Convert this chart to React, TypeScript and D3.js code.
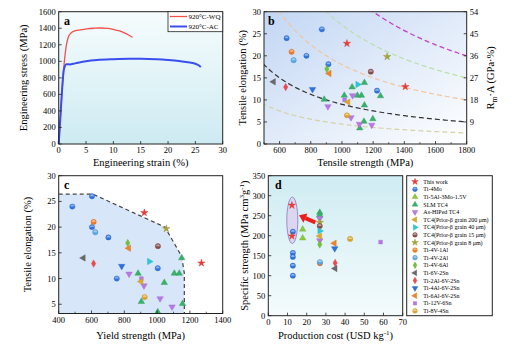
import React, { useEffect, useRef } from 'react';
import * as d3 from 'd3';

const W = 519;
const H = 354;
const FONT = '"Liberation Serif", "Times New Roman", serif';

// ---- panel a: stress-strain curves
const strainWQ = [0, 0.3, 0.6, 0.9, 1.2, 1.5, 1.8, 2.2, 2.7, 4, 5.1, 6.5, 7.6, 9, 10, 11, 11.8, 12.8, 13.5];
const stressWQ = [0, 300, 620, 900, 1100, 1230, 1300, 1340, 1362, 1380, 1392, 1400, 1403, 1398, 1386, 1370, 1350, 1318, 1290];
const strainAC = [0, 0.3, 0.6, 0.9, 1.1, 1.4, 2, 3, 5, 7, 10, 13, 15, 18, 20, 22, 24, 25, 25.6, 26];
const stressAC = [0, 320, 640, 880, 935, 965, 962, 975, 1000, 1015, 1025, 1030, 1030, 1024, 1015, 1003, 985, 970, 952, 930];

// ---- series shared by b, c, d
const seriesNames = [
  'This work', 'Ti-4Mo', 'Ti-5Al-3Mo-1.5V', 'SLM TC4', 'As-HIPed TC4',
  'TC4(Prior-β grain 200 μm)', 'TC4(Prior-β grain 40 μm)', 'TC4(Prior-β grain 15 μm)', 'TC4(Prior-β grain 8 μm)',
  'Ti-4V-1Al', 'Ti-4V-2Al', 'Ti-4V-6Al', 'Ti-6V-2Sn', 'Ti-2Al-6V-2Sn', 'Ti-4Al-6V-2Sn', 'Ti-6Al-6V-2Sn',
  'Ti-12V-6Sn', 'Ti-8V-4Sn',
];
const seriesColors = [
  '#f03a3a', '#2f74e0', '#8cc83c', '#36b26a', '#b878e8',
  '#e0a82a', '#2cc8d8', '#8a4b4b', '#a8a436',
  '#f27a22', '#5aa6e6', '#72c23a', '#6a6a6a', '#f04848', '#2f6fe0', '#f08428',
  '#b878e8', '#e0a428',
];
const seriesShapes = [
  'star', 'circle', 'up', 'up', 'down',
  'left', 'right', 'circle', 'star',
  'circle', 'circle', 'diamond', 'left', 'diamond', 'down', 'left',
  'square', 'circle',
];

// ---- panel b: [series, tensile strength (MPa), elongation (%)]
const tensilePoints: [string, number, number][] = [
  ['Ti-4Mo', 645, 24], ['Ti-4Mo', 871, 26], ['Ti-4Mo', 772, 20], ['Ti-4Mo', 913, 18.1], ['Ti-4Mo', 1225, 12.1],
  ['Ti-4V-1Al', 677, 20.9], ['Ti-4V-2Al', 690, 19], ['Ti-4V-6Al', 903, 17], ['Ti-6Al-6V-2Sn', 918, 16],
  ['TC4(Prior-β grain 8 μm)', 1290, 19.8], ['TC4(Prior-β grain 15 μm)', 1185, 16.4],
  ['Ti-6V-2Sn', 561, 14.1], ['Ti-2Al-6V-2Sn', 639, 12.9], ['Ti-4Al-6V-2Sn', 811, 12.4],
  ['TC4(Prior-β grain 40 μm)', 1101, 13.5],
  ['SLM TC4', 1065, 12.9], ['SLM TC4', 1144, 13.9], ['SLM TC4', 1247, 10.9], ['SLM TC4', 1015, 11],
  ['SLM TC4', 1099, 11], ['SLM TC4', 1125, 11], ['SLM TC4', 1144, 8.8], ['SLM TC4', 886, 10.1],
  ['SLM TC4', 1141, 5.1], ['SLM TC4', 1198, 5.7], ['SLM TC4', 1114, 3.6],
  ['As-HIPed TC4', 1068, 11], ['As-HIPed TC4', 910, 8.5], ['As-HIPed TC4', 1058, 6],
  ['As-HIPed TC4', 1112, 4.5], ['As-HIPed TC4', 1191, 4.3],
  ['Ti-12V-6Sn', 1017, 10], ['TC4(Prior-β grain 200 μm)', 1039, 9.5], ['Ti-8V-4Sn', 1032, 6.5],
  ['This work', 1032, 22.8], ['This work', 1406, 13],
];
// strength-ductility product lines (GPa·%)
const isoProducts = [4.5, 9, 18, 27, 36];

// ---- panel c: [series, yield strength (MPa), elongation (%)]
const yieldPoints: [string, number, number][] = [
  ['Ti-4Mo', 483, 24], ['Ti-4Mo', 603, 26], ['Ti-4Mo', 603, 20], ['Ti-4Mo', 703, 18], ['Ti-4Mo', 1004, 12], ['Ti-4Mo', 754, 10],
  ['Ti-4V-1Al', 613, 21], ['Ti-4V-2Al', 623, 19], ['Ti-4V-6Al', 821, 16.9], ['Ti-6Al-6V-2Sn', 827, 15.9],
  ['TC4(Prior-β grain 8 μm)', 1056, 19.7], ['TC4(Prior-β grain 15 μm)', 1005, 16.3],
  ['Ti-6V-2Sn', 550, 14], ['Ti-2Al-6V-2Sn', 613, 12.9], ['Ti-4Al-6V-2Sn', 784, 12.4],
  ['TC4(Prior-β grain 40 μm)', 953, 13.3],
  ['SLM TC4', 1150, 14], ['SLM TC4', 1105, 11], ['SLM TC4', 1135, 11], ['SLM TC4', 884, 11],
  ['SLM TC4', 1044, 9.2], ['SLM TC4', 904, 5.5], ['SLM TC4', 1155, 5.1], ['SLM TC4', 1004, 3.5],
  ['As-HIPed TC4', 829, 10.9], ['As-HIPed TC4', 920, 8.6], ['As-HIPed TC4', 1018, 6.1], ['As-HIPed TC4', 1091, 4.5],
  ['Ti-12V-6Sn', 904, 10], ['TC4(Prior-β grain 200 μm)', 902, 9.4], ['Ti-8V-4Sn', 924, 6.4],
  ['This work', 922, 22.8], ['This work', 1270, 13],
];
const envelopeYield = [400, 610, 1048, 1150, 1166, 1166];
const envelopeElong = [26.4, 26.4, 20, 14.3, 11, 3.2];

// ---- panel d: [series, production cost (USD/kg), specific strength]
const costPoints: [string, number, number][] = [
  ['Ti-4Mo', 12.8, 210], ['Ti-4Mo', 12.8, 157], ['Ti-4Mo', 12.8, 147], ['Ti-4Mo', 12.8, 125], ['Ti-4Mo', 12.8, 100],
  ['Ti-5Al-3Mo-1.5V', 17.9, 216], ['Ti-5Al-3Mo-1.5V', 17.9, 194],
  ['SLM TC4', 26.8, 258], ['SLM TC4', 26.8, 252], ['As-HIPed TC4', 26.8, 243], ['As-HIPed TC4', 26.8, 188],
  ['TC4(Prior-β grain 8 μm)', 26.8, 233], ['TC4(Prior-β grain 15 μm)', 26.8, 224],
  ['TC4(Prior-β grain 40 μm)', 26.8, 212], ['TC4(Prior-β grain 200 μm)', 26.8, 199], ['Ti-4V-6Al', 26.8, 178],
  ['Ti-4V-1Al', 26.9, 131], ['Ti-4V-2Al', 26.9, 134],
  ['Ti-6Al-6V-2Sn', 34.4, 181], ['Ti-4Al-6V-2Sn', 34.6, 168], ['Ti-2Al-6V-2Sn', 34.8, 132], ['Ti-6V-2Sn', 34.8, 118],
  ['Ti-8V-4Sn', 42.6, 192], ['Ti-12V-6Sn', 58.5, 184],
  ['This work', 12.3, 276], ['This work', 12.3, 199],
];
const highlightCost = 12.5;
const highlightRange = [188, 289];
const arrowFrom = [24.5, 233];
const arrowTo = [16, 251];

const symbolTypes: Record<string, any> = {
  star: d3.symbolStar, circle: d3.symbolCircle, up: d3.symbolTriangle, down: d3.symbolTriangle,
  left: d3.symbolTriangle, right: d3.symbolTriangle, diamond: d3.symbolDiamond, square: d3.symbolSquare,
};
const symbolSizes: Record<string, number> = {
  star: 17, circle: 22, up: 18, down: 18, left: 18, right: 18, diamond: 16, square: 14,
};
const symbolRot: Record<string, number> = { down: 180, left: -90, right: 90 };

function drawMarker(g: any, name: string, x: number, y: number, k = 1) {
  const i = seriesNames.indexOf(name);
  const shape = seriesShapes[i];
  const color = seriesColors[i];
  const m = g.append('g').attr('transform', `translate(${x},${y}) rotate(${symbolRot[shape] || 0})`);
  m.append('path')
    .attr('d', d3.symbol().type(symbolTypes[shape]).size(symbolSizes[shape] * k)())
    .attr('fill', color)
    .attr('stroke', d3.color(color)!.darker(0.4).toString())
    .attr('stroke-width', 0.4);
  if (shape === 'circle') {
    const r = Math.sqrt((symbolSizes[shape] * k) / Math.PI) * 0.75;
    m.append('path')
      .attr('d', `M${-r},0A${r},${r} 0 0 1 ${r},0Z`)
      .attr('fill', '#fff')
      .attr('opacity', 0.45);
  }
}

function frame(g: any, x0: number, x1: number, y0: number, y1: number) {
  g.append('rect').attr('x', x0).attr('y', y0).attr('width', x1 - x0).attr('height', y1 - y0)
    .attr('fill', 'none').attr('stroke', '#222').attr('stroke-width', 1);
}

function xTicks(g: any, sc: any, y: number, values: number[], minor: number[] = [], labelDy = 9) {
  values.forEach((v) => {
    g.append('line').attr('x1', sc(v)).attr('x2', sc(v)).attr('y1', y).attr('y2', y - 3).attr('stroke', '#222').attr('stroke-width', 0.8);
    g.append('text').attr('x', sc(v)).attr('y', y + labelDy).attr('text-anchor', 'middle')
      .attr('font-size', 8.5).attr('font-family', FONT).text(v);
  });
  minor.forEach((v) => {
    g.append('line').attr('x1', sc(v)).attr('x2', sc(v)).attr('y1', y).attr('y2', y - 1.8).attr('stroke', '#222').attr('stroke-width', 0.7);
  });
}

function yTicks(g: any, sc: any, x: number, values: number[], side: 'left' | 'right' = 'left') {
  const dir = side === 'left' ? 1 : -1;
  values.forEach((v) => {
    g.append('line').attr('x1', x).attr('x2', x + 3 * dir).attr('y1', sc(v)).attr('y2', sc(v)).attr('stroke', '#222').attr('stroke-width', 0.8);
    g.append('text').attr('x', x - 3 * dir).attr('y', sc(v) + 3)
      .attr('text-anchor', side === 'left' ? 'end' : 'start')
      .attr('font-size', 8.5).attr('font-family', FONT).text(v);
  });
}

function axisTitle(g: any, x: number, y: number, text: string, rotate = false) {
  const t = g.append('text').attr('font-size', 10.5).attr('font-family', FONT).attr('text-anchor', 'middle');
  if (rotate) t.attr('transform', `translate(${x},${y}) rotate(-90)`);
  else t.attr('x', x).attr('y', y);
  t.text(text);
  return t;
}

function panelLetter(g: any, x: number, y: number, s: string) {
  g.append('text').attr('x', x).attr('y', y).attr('font-size', 12).attr('font-weight', 'bold')
    .attr('font-family', FONT).text(s);
}

const App = () => {
  const ref = useRef<SVGSVGElement>(null);

  useEffect(() => {
    const svg = d3.select(ref.current);
    svg.selectAll('*').remove();
    const defs = svg.append('defs');

    // gradients
    const gA = defs.append('linearGradient').attr('id', 'bgA').attr('x1', 0).attr('y1', 0).attr('x2', 0).attr('y2', 1);
    gA.append('stop').attr('offset', 0).attr('stop-color', '#f6fcfd');
    gA.append('stop').attr('offset', 1).attr('stop-color', '#cdebf2');
    const gB = defs.append('linearGradient').attr('id', 'bgB').attr('x1', 0).attr('y1', 0).attr('x2', 1).attr('y2', 1);
    gB.append('stop').attr('offset', 0).attr('stop-color', '#c2d6f4');
    gB.append('stop').attr('offset', 1).attr('stop-color', '#ffffff');
    const gD = defs.append('linearGradient').attr('id', 'bgD').attr('x1', 0).attr('y1', 0).attr('x2', 0).attr('y2', 1);
    gD.append('stop').attr('offset', 0).attr('stop-color', '#cfecf2');
    gD.append('stop').attr('offset', 1).attr('stop-color', '#f4fbfc');

    // ===== panel a
    const ax = d3.scaleLinear().domain([0, 30]).range([58.7, 222.7]);
    const ay = d3.scaleLinear().domain([0, 1600]).range([144, 11.7]);
    const pa = svg.append('g');
    pa.append('rect').attr('x', 58.7).attr('y', 11.7).attr('width', 164).attr('height', 132.3).attr('fill', 'url(#bgA)');
    const lineA = d3.line<number>().curve(d3.curveMonotoneX);
    pa.append('path')
      .attr('d', lineA.x((_, i) => ax(strainWQ[i])).y((d) => ay(d))(stressWQ))
      .attr('fill', 'none').attr('stroke', '#f0504a').attr('stroke-width', 1.3);
    pa.append('path')
      .attr('d', lineA.x((_, i) => ax(strainAC[i])).y((d) => ay(d))(stressAC))
      .attr('fill', 'none').attr('stroke', '#3a4ef0').attr('stroke-width', 2);
    frame(pa, 58.7, 222.7, 11.7, 144);
    xTicks(pa, ax, 144, d3.range(0, 31, 5));
    yTicks(pa, ay, 58.7, d3.range(0, 1601, 200));
    axisTitle(pa, 140.7, 166, 'Engineering strain (%)');
    axisTitle(pa, 27, 77.8, 'Engineering stress (MPa)', true);
    panelLetter(pa, 64, 25, 'a');
    // legend
    pa.append('rect').attr('x', 168).attr('y', 11.7).attr('width', 54.7).attr('height', 20)
      .attr('fill', '#fff').attr('stroke', '#222').attr('stroke-width', 0.8);
    [['920°C-WQ', '#f0504a', 1.3], ['920°C-AC', '#3a4ef0', 2]].forEach(([t, c, w], i) => {
      const yy = 16.5 + i * 10;
      pa.append('line').attr('x1', 170).attr('x2', 187).attr('y1', yy).attr('y2', yy).attr('stroke', c as string).attr('stroke-width', w as number);
      pa.append('text').attr('x', 188.5).attr('y', yy + 2.4).attr('font-size', 7).attr('font-family', FONT).text(t as string);
    });

    // ===== panel b
    const bx = d3.scaleLinear().domain([500, 1800]).range([264, 466.7]);
    const by = d3.scaleLinear().domain([0, 30]).range([144, 11.7]);
    const byR = d3.scaleLinear().domain([0, 54]).range([144, 11.7]);
    const pb = svg.append('g');
    defs.append('clipPath').attr('id', 'clipB').append('rect').attr('x', 264).attr('y', 11.7).attr('width', 202.7).attr('height', 132.3);
    pb.append('rect').attr('x', 264).attr('y', 11.7).attr('width', 202.7).attr('height', 132.3).attr('fill', 'url(#bgB)');
    const isoColors = ['#d6d2a4', '#333333', '#f4c49a', '#b8e0a8', '#c040c8'];
    const isoWidths = [1.2, 1.2, 1.2, 1.2, 1.3];
    const pbc = pb.append('g').attr('clip-path', 'url(#clipB)');
    isoProducts.forEach((p, k) => {
      const rs = d3.range(400, 1801, 10);
      pbc.append('path')
        .attr('d', d3.line<number>().x((r) => bx(r)).y((r) => by((p * 1000) / r))(rs))
        .attr('fill', 'none').attr('stroke', isoColors[k]).attr('stroke-width', isoWidths[k])
        .attr('stroke-dasharray', '5,3');
    });
    tensilePoints.forEach(([n, r, e]) => drawMarker(pbc, n, bx(r), by(e)));
    frame(pb, 264, 466.7, 11.7, 144);
    xTicks(pb, bx, 144, d3.range(600, 1801, 200), d3.range(500, 1800, 200));
    yTicks(pb, by, 264, d3.range(0, 31, 5));
    yTicks(pb, byR, 466.7, d3.range(9, 55, 9), 'right');
    axisTitle(pb, 365.3, 166, 'Tensile strength (MPa)');
    axisTitle(pb, 246, 77.8, 'Tensile elongation (%)', true);
    const rt = pb.append('text').attr('font-size', 10.5).attr('font-family', FONT).attr('text-anchor', 'middle')
      .attr('transform', 'translate(494,77.8) rotate(-90)');
    rt.append('tspan').text('R');
    rt.append('tspan').attr('font-size', 7.5).attr('dy', 2.5).text('m');
    rt.append('tspan').attr('dy', -2.5).text('·A (GPa·%)');
    panelLetter(pb, 268, 25, 'b');

    // ===== panel c
    const cx = d3.scaleLinear().domain([400, 1400]).range([58.7, 222.7]);
    const cy = d3.scaleLinear().domain([3.2, 30]).range([313.5, 175.7]);
    const pc = svg.append('g');
    defs.append('clipPath').attr('id', 'clipC').append('rect').attr('x', 58.7).attr('y', 175.7).attr('width', 164).attr('height', 137.8);
    pc.append('rect').attr('x', 58.7).attr('y', 175.7).attr('width', 164).attr('height', 137.8).attr('fill', '#fff');
    const env = envelopeYield.map((v, i) => [cx(v), cy(envelopeElong[i])] as [number, number]);
    const pcc = pc.append('g').attr('clip-path', 'url(#clipC)');
    pcc.append('path')
      .attr('d', d3.line()([...env, [cx(400), cy(3.2)]]) + 'Z')
      .attr('fill', '#d8e6f9');
    pcc.append('path').attr('d', d3.line()(env)).attr('fill', 'none')
      .attr('stroke', '#444').attr('stroke-width', 1.2).attr('stroke-dasharray', '4,3');
    yieldPoints.forEach(([n, v, e]) => drawMarker(pcc, n, cx(v), cy(e)));
    frame(pc, 58.7, 222.7, 175.7, 313.5);
    xTicks(pc, cx, 313.5, d3.range(400, 1401, 200), d3.range(500, 1400, 200));
    yTicks(pc, cy, 58.7, d3.range(5, 31, 5));
    axisTitle(pc, 140.7, 339, 'Yield strength (MPa)');
    axisTitle(pc, 31, 244.6, 'Tensile elongation (%)', true);
    panelLetter(pc, 64, 189, 'c');

    // ===== panel d
    const dx = d3.scaleLinear().domain([0, 70]).range([268.3, 402.7]);
    const dy = d3.scaleLinear().domain([0, 350]).range([315.7, 175.7]);
    const pd = svg.append('g');
    pd.append('rect').attr('x', 268.3).attr('y', 175.7).attr('width', 134.4).attr('height', 140).attr('fill', 'url(#bgD)');
    const ecy = (dy(highlightRange[0]) + dy(highlightRange[1])) / 2;
    const ery = (dy(highlightRange[0]) - dy(highlightRange[1])) / 2 + 3;
    pd.append('ellipse').attr('cx', dx(highlightCost)).attr('cy', ecy).attr('rx', 5.5).attr('ry', ery)
      .attr('fill', '#dcd6f0').attr('stroke', '#8e86c4').attr('stroke-width', 0.9);
    // arrow
    const [x0, y0] = [dx(arrowFrom[0]), dy(arrowFrom[1])];
    const [x1, y1] = [dx(arrowTo[0]), dy(arrowTo[1])];
    const ang = Math.atan2(y1 - y0, x1 - x0);
    const hl = 7;
    const bxh = x1 - hl * Math.cos(ang);
    const byh = y1 - hl * Math.sin(ang);
    pd.append('line').attr('x1', x0).attr('y1', y0).attr('x2', bxh).attr('y2', byh)
      .attr('stroke', '#ee1c1c').attr('stroke-width', 4);
    const px = -Math.sin(ang) * 5;
    const py = Math.cos(ang) * 5;
    pd.append('path').attr('d', `M${x1},${y1}L${bxh + px},${byh + py}L${bxh - px},${byh - py}Z`).attr('fill', '#ee1c1c');
    costPoints.forEach(([n, c, s]) => drawMarker(pd, n, dx(c), dy(s)));
    frame(pd, 268.3, 402.7, 175.7, 315.7);
    xTicks(pd, dx, 315.7, d3.range(0, 71, 10));
    yTicks(pd, dy, 268.3, d3.range(0, 351, 50));
    const xt = pd.append('text').attr('x', 335.5).attr('y', 339).attr('font-size', 10.5).attr('font-family', FONT).attr('text-anchor', 'middle');
    xt.append('tspan').text('Production cost (USD kg');
    xt.append('tspan').attr('font-size', 7).attr('dy', -4).text('-1');
    xt.append('tspan').attr('dy', 4).text(')');
    const yt = pd.append('text').attr('font-size', 10.5).attr('font-family', FONT).attr('text-anchor', 'middle')
      .attr('transform', 'translate(248,245.7) rotate(-90)');
    yt.append('tspan').text('Specific strength (MPa cm');
    yt.append('tspan').attr('font-size', 7).attr('dy', -4).text('3');
    yt.append('tspan').attr('dy', 4).text('g');
    yt.append('tspan').attr('font-size', 7).attr('dy', -4).text('-1');
    yt.append('tspan').attr('dy', 4).text(')');
    panelLetter(pd, 275, 189, 'd');

    // legend for d
    const lg = svg.append('g');
    lg.append('rect').attr('x', 406.7).attr('y', 175.7).attr('width', 85.6).attr('height', 140)
      .attr('fill', '#fff').attr('stroke', '#222').attr('stroke-width', 1);
    seriesNames.forEach((n, i) => {
      const yy = 181.7 + i * 7.6;
      drawMarker(lg, n, 415, yy, 0.8);
      lg.append('text').attr('x', 423.3).attr('y', yy + 2).attr('font-size', 6).attr('font-family', FONT).text(n);
    });
  }, []);

  return (
    <svg ref={ref} width={W} height={H} style={{ display: 'block', position: 'absolute', left: 0, top: 0 }} />
  );
};

export default App;
